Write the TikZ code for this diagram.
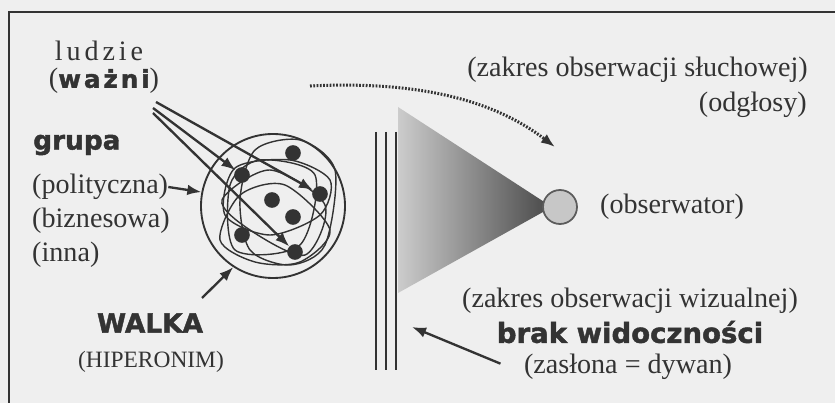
\documentclass[tikz,border=0pt]{standalone}
\usepackage{fontspec}
\usetikzlibrary{arrows.meta}
\setmainfont{Liberation Serif}
\newfontfamily\heavy{DejaVu Sans}[BoldFeatures={FakeBold=1.6}]
\newfontfamily\spaced{Liberation Serif}[LetterSpace=14]
\newfontfamily\heavyspaced{DejaVu Sans}[LetterSpace=12, BoldFeatures={FakeBold=1.6}]

\definecolor{ink}{HTML}{333333}
\definecolor{paper}{HTML}{EFEFEF}

\tikzset{
  txt/.style={inner sep=0pt, text=ink, font=\fontsize{24}{28}\selectfont},
  heavytxt/.style={inner sep=0pt, text=ink, font=\heavy\bfseries\fontsize{22.5}{26}\selectfont},
  dot/.style={circle, fill=ink, minimum size=0.47cm, inner sep=0pt},
  link/.style={->, line width=2pt, draw=ink},
  tangle/.style={ink, line width=1.2pt}
}

\begin{document}
\begin{tikzpicture}[x=0.03cm, y=-0.03cm, >={Latex[length=12pt, width=9pt]}] % pixel-like units
  % Paper and frame
  \useasboundingbox (0,0) rectangle (835,403);
  \fill[paper] (0,0) rectangle (835,403);
  \draw[ink, line width=2pt] (9,403) -- (9,12) -- (835,12);

  % Field of view
  \shade[left color=black!20, right color=black!72] (398,107) -- (552,207) -- (398,293) -- cycle;

  % Curtain
  \draw[ink, line width=1.6pt] (376,132) -- (376,370);
  \draw[ink, line width=1.6pt] (386,132) -- (386,370);
  \draw[ink, line width=1.6pt] (396,132) -- (396,370);

  % Observer
  \node[circle, draw=ink!80, fill=black!22, line width=1.5pt, minimum size=1.02cm, inner sep=0pt] (obs) at (560,207) {};
  \node[txt, anchor=west] (obstxt) at (600,207) {(obserwator)};

  % Group circle and tangles
  \node[circle, draw=ink, line width=1.6pt, minimum size=4.32cm, inner sep=0pt] (grp) at (273,206) {};
  \draw[tangle] plot[smooth cycle] coordinates {(235,168) (290,160) (330,180) (320,215) (270,235) (225,215)};
  \draw[tangle] plot[smooth cycle] coordinates {(255,150) (300,140) (335,170) (325,245) (290,265) (250,250) (240,200)};
  \draw[tangle] plot[smooth cycle] coordinates {(220,240) (240,195) (285,185) (330,230) (300,262) (255,262)};
  \draw[tangle] plot[smooth cycle] coordinates {(260,160) (315,175) (300,245) (235,250) (230,185)};
  \draw[tangle] plot[smooth cycle] coordinates {(222,200) (270,170) (325,205) (305,255) (250,230)};

  % People
  \node[dot] (d1) at (293,153) {};
  \node[dot] (d2) at (242,175) {};
  \node[dot] (d3) at (320,194) {};
  \node[dot] (d4) at (272,200) {};
  \node[dot] (d5) at (293,217) {};
  \node[dot] (d6) at (242,235) {};
  \node[dot] (d7) at (295,252) {};

  % Left labels
  \node[txt, font=\spaced\fontsize{24}{28}\selectfont] (ludzie) at (99,51) {ludzie};
  \node[txt] (wazni) at (104,81) {({\heavyspaced\bfseries\fontsize{21}{25}\selectfont ważni})};
  \node[heavytxt, anchor=west] (grupa) at (33,145) {grupa};
  \node[txt, anchor=west] (polit) at (32,187) {(polityczna)};
  \node[txt, anchor=west] (biznes) at (32,221) {(biznesowa)};
  \node[txt, anchor=west] (inna) at (32,255) {(inna)};
  \node[heavytxt] (walka) at (150,323) {WALKA};
  \node[txt, font=\fontsize{20}{24}\selectfont] (hiper) at (151,362) {(HIPERONIM)};

  % Arrows to the group
  \coordinate (w1) at (156,102);
  \coordinate (w2) at (153,108);
  \coordinate (w3) at (153,113);
  \draw[link] (w1) -- (d3);
  \draw[link] (w2) -- (d2);
  \draw[link] (w3) -- (d7);
  \draw[link] (polit.east) -- (grp.169);
  \coordinate (wtail) at (202,298);
  \draw[link] (wtail) -- (grp.237);

  % Right labels
  \node[txt, anchor=east] (hearing) at (808,70) {(zakres obserwacji słuchowej)};
  \node[txt, anchor=east] (sounds) at (807,105) {(odgłosy)};
  \node[txt] (visual) at (630,301) {(zakres obserwacji wizualnej)};
  \node[heavytxt, font=\heavy\bfseries\fontsize{23.5}{27}\selectfont] (noview) at (630,332) {brak widoczności};
  \node[txt] (zaslona) at (628,367) {(zasłona = dywan)};

  % Sound path and curtain arrow
  \coordinate (s1) at (310,86);
  \coordinate (s2) at (555,147);
  \draw[->, ink, line width=2.6pt, dash pattern=on 1.5pt off 1.3pt] (s1) .. controls (430,80) and (500,105) .. (s2);
  \coordinate (ctip) at (412,327);
  \draw[link] ([xshift=-0.7cm, yshift=0.1cm]zaslona.west) -- (ctip);
\end{tikzpicture}
\end{document}
